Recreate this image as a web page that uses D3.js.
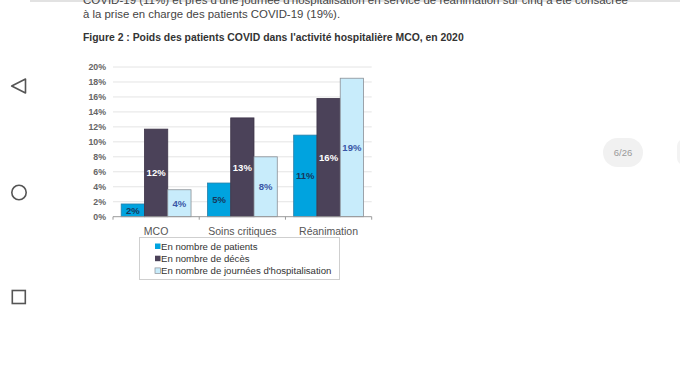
<!DOCTYPE html>
<html><head><meta charset="utf-8">
<script src="https://cdn.jsdelivr.net/npm/d3@7"></script>
<style>
html,body{margin:0;padding:0;background:#fff;}
svg{display:block;font-family:"Liberation Sans",Arial,sans-serif;}
</style></head>
<body>
<svg id="c" width="680" height="383"></svg>
<script>
const categories = ["MCO", "Soins critiques", "Réanimation"];
const seriesNames = ["En nombre de patients", "En nombre de décès", "En nombre de journées d'hospitalisation"];
const patients = [1.7, 4.5, 10.9];
const deces = [11.7, 13.2, 15.8];
const journees = [3.6, 8.0, 18.5];
const patientsLabels = ["2%", "5%", "11%"];
const decesLabels = ["12%", "13%", "16%"];
const journeesLabels = ["4%", "8%", "19%"];
const yTicks = [0, 2, 4, 6, 8, 10, 12, 14, 16, 18, 20];

const colors = ["#00a3df", "#4b4259", "#c8ecfb"];
const labelColors = ["#17385c", "#ffffff", "#3a57a6"];

const svg = d3.select("#c");

// page chrome
svg.append("rect").attr("x", 30).attr("y", 0).attr("width", 650).attr("height", 2).attr("fill", "#e2e2e2");
svg.append("text").attr("x", 83).attr("y", 3.5).attr("font-size", 11.5).attr("fill", "#444")
  .text("COVID-19 (11%) et près d'une journée d'hospitalisation en service de réanimation sur cinq a été consacrée");
svg.append("text").attr("x", 83).attr("y", 17.5).attr("font-size", 11.4).attr("fill", "#444")
  .text("à la prise en charge des patients COVID-19 (19%).");
svg.append("text").attr("x", 83).attr("y", 41).attr("font-size", 10.4).attr("font-weight", "bold").attr("fill", "#333")
  .text("Figure 2 : Poids des patients COVID dans l'activité hospitalière MCO, en 2020");

// nav icons
svg.append("path").attr("d", "M11.7,86 L25.5,79 L25.5,93 Z").attr("fill", "none").attr("stroke", "#555").attr("stroke-width", 1.6).attr("stroke-linejoin", "round");
svg.append("circle").attr("cx", 19).attr("cy", 192.5).attr("r", 7.2).attr("fill", "none").attr("stroke", "#555").attr("stroke-width", 1.6);
svg.append("rect").attr("x", 12.3).attr("y", 290.5).attr("width", 13).attr("height", 13).attr("fill", "none").attr("stroke", "#555").attr("stroke-width", 1.6);

// page pill
svg.append("rect").attr("x", 603).attr("y", 138).attr("width", 40).attr("height", 29).attr("rx", 14.5).attr("fill", "#f1f1f1");
svg.append("text").attr("x", 623).attr("y", 155.5).attr("text-anchor", "middle").attr("font-size", 9.5).attr("fill", "#9a9a9a").text("6/26");
svg.append("rect").attr("x", 677).attr("y", 139).attr("width", 14).attr("height", 26).attr("rx", 7).attr("fill", "#f3f3f3");

// chart
const x0 = d3.scaleBand().domain(categories).range([113, 371.7]).paddingInner(0.19).paddingOuter(0.095);
const x1 = d3.scaleBand().domain([0, 1, 2]).range([0, x0.bandwidth()]);
const y = d3.scaleLinear().domain([0, 20]).range([216.7, 67]);

const g = svg.append("g");
g.selectAll("line.grid").data(yTicks.slice(1)).join("line")
  .attr("x1", 113).attr("x2", 371.7)
  .attr("y1", d => y(d)).attr("y2", d => y(d))
  .attr("stroke", "#e4e4e4").attr("stroke-width", 1);

g.selectAll("text.yl").data(yTicks).join("text")
  .attr("x", 106).attr("y", d => y(d) + 3)
  .attr("text-anchor", "end").attr("font-size", 8.8).attr("font-weight", "bold").attr("fill", "#666")
  .text(d => d + "%");

const data = categories.map((c, i) => ({
  cat: c,
  vals: [patients[i], deces[i], journees[i]],
  labs: [patientsLabels[i], decesLabels[i], journeesLabels[i]]
}));

const grp = g.selectAll("g.cat").data(data).join("g").attr("transform", d => `translate(${x0(d.cat)},0)`);
grp.selectAll("rect").data(d => d.vals.map((v, k) => ({v, k}))).join("rect")
  .attr("x", d => x1(d.k)).attr("width", x1.bandwidth())
  .attr("y", d => y(d.v)).attr("height", d => y(0) - y(d.v))
  .attr("fill", d => colors[d.k])
  .attr("stroke", d => d.k === 2 ? "#8a8f96" : (d.k === 0 ? "#2a7fa8" : "#3e3549"))
  .attr("stroke-width", 0.8);
grp.selectAll("text").data(d => d.vals.map((v, k) => ({v, k, l: d.labs[k]}))).join("text")
  .attr("x", d => x1(d.k) + x1.bandwidth() / 2)
  .attr("y", d => (y(d.v) + y(0)) / 2 + 3.5)
  .attr("text-anchor", "middle").attr("font-size", 9.5).attr("font-weight", "bold")
  .attr("fill", d => labelColors[d.k])
  .text(d => d.l);

g.append("line").attr("x1", 113).attr("x2", 371.7).attr("y1", y(0)).attr("y2", y(0)).attr("stroke", "#9a9a9a").attr("stroke-width", 1);
const bounds = [113, ...categories.map(c => x0(c) - x0.step() * x0.paddingInner() / 2 + x0.step())];
g.selectAll("line.tk").data(bounds).join("line")
  .attr("x1", d => d).attr("x2", d => d).attr("y1", y(0)).attr("y2", y(0) + 3)
  .attr("stroke", "#9a9a9a");
g.selectAll("text.cl").data(categories).join("text")
  .attr("x", d => x0(d) + x0.bandwidth() / 2).attr("y", 234.5)
  .attr("text-anchor", "middle").attr("font-size", 10.5).attr("fill", "#555")
  .text(d => d);

const lg = svg.append("g");
lg.append("rect").attr("x", 139.5).attr("y", 237.5).attr("width", 200).attr("height", 42)
  .attr("fill", "#fff").attr("stroke", "#cfcfcf").attr("stroke-width", 1);
seriesNames.forEach((n, i) => {
  const yy = 246.5 + i * 12.2;
  lg.append("rect").attr("x", 155).attr("y", yy - 3).attr("width", 5.5).attr("height", 5.5)
    .attr("fill", colors[i]).attr("stroke", i === 2 ? "#8a8f96" : "none").attr("stroke-width", 0.7);
  lg.append("text").attr("x", 161).attr("y", yy + 3).attr("font-size", 9.6).attr("fill", "#333").text(n);
});
</script>
</body></html>
